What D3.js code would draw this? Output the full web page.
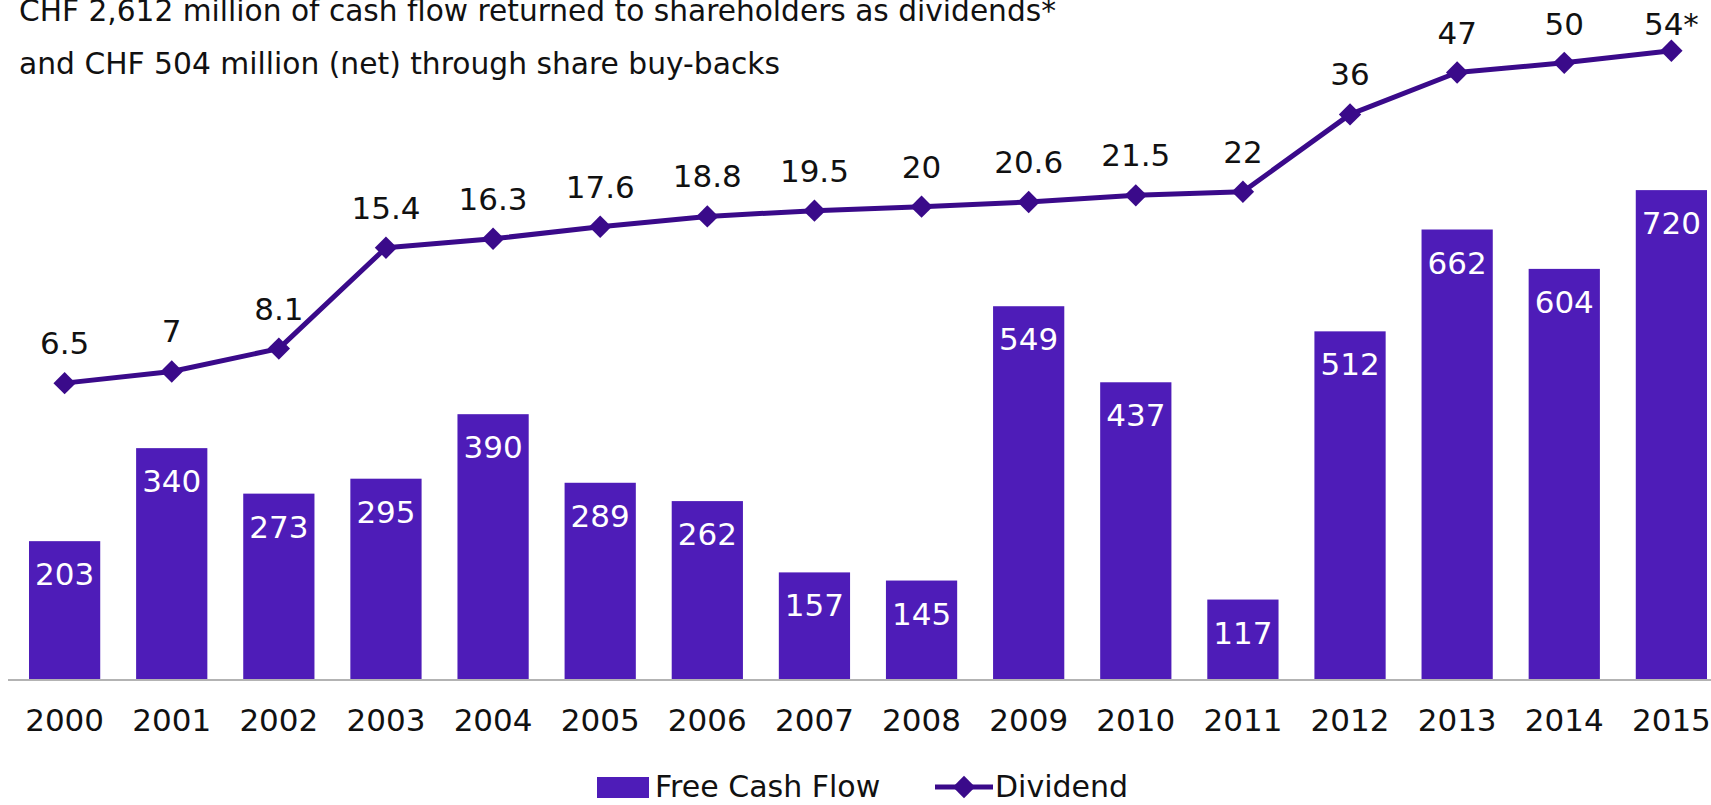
<!DOCTYPE html>
<html>
<head>
<meta charset="utf-8">
<script src="https://cdn.jsdelivr.net/npm/d3@7"></script>
<style>
  html, body { margin: 0; padding: 0; background: #fff; }
  svg { display: block; font-family: "DejaVu Sans", sans-serif; }
</style>
</head>
<body>
<svg id="chart" width="1711" height="805"></svg>
<script>
// Free cash flow (CHF million) and dividend per share (CHF), 2000–2015
const years = ["2000","2001","2002","2003","2004","2005","2006","2007","2008","2009","2010","2011","2012","2013","2014","2015"];
const freeCashFlow = [203, 340, 273, 295, 390, 289, 262, 157, 145, 549, 437, 117, 512, 662, 604, 720];
const dividend = [6.5, 7, 8.1, 15.4, 16.3, 17.6, 18.8, 19.5, 20, 20.6, 21.5, 22, 36, 47, 50, 54];
const dividendLabels = ["6.5","7","8.1","15.4","16.3","17.6","18.8","19.5","20","20.6","21.5","22","36","47","50","54*"];
const titleLines = [
  "CHF 2,612 million of cash flow returned to shareholders as dividends*",
  "and CHF 504 million (net) through share buy-backs"
];
const legendItems = ["Free Cash Flow", "Dividend"];

const barColor = "#4e1cb8";
const lineColor = "#3a0a8a";

const svg = d3.select("#chart");

const x = d3.scaleBand().domain(years).range([11, 1725]).paddingInner(0.335).paddingOuter(0.168);
const yBar = d3.scaleLinear().domain([0, 1000]).range([679, 0]);
const yDiv = d3.scaleLog().domain([1, 100]).range([677, -46]);

// Title
svg.append("g").selectAll("text").data(titleLines).join("text")
  .attr("x", 19)
  .attr("y", (d, i) => 21 + i * 53)
  .attr("font-size", 31)
  .attr("fill", "#111")
  .attr("textLength", (d, i) => i === 0 ? 1037 : 761)
  .attr("lengthAdjust", "spacingAndGlyphs")
  .text(d => d);

// Bars
svg.append("g").selectAll("rect").data(freeCashFlow).join("rect")
  .attr("x", (d, i) => x(years[i]))
  .attr("y", d => yBar(d))
  .attr("width", x.bandwidth())
  .attr("height", d => yBar(0) - yBar(d))
  .attr("fill", barColor);

// Bar value labels
svg.append("g").selectAll("text").data(freeCashFlow).join("text")
  .attr("x", (d, i) => x(years[i]) + x.bandwidth() / 2)
  .attr("y", d => yBar(d) + 44)
  .attr("text-anchor", "middle")
  .attr("font-size", 31)
  .attr("fill", "#fff")
  .text(d => d);

// X axis
const xAxis = svg.append("g")
  .attr("transform", `translate(0,${yBar(0) + 1})`)
  .call(d3.axisBottom(x).tickSize(0).tickPadding(29));
xAxis.select(".domain").attr("stroke", "#b3b3b3").attr("stroke-width", 2).attr("d", "M8,0H1711");
xAxis.selectAll("text").attr("font-size", 31).attr("fill", "#111")
  .attr("font-family", "DejaVu Sans, sans-serif");

// Dividend line
const cx = (i) => x(years[i]) + x.bandwidth() / 2;
const line = d3.line().x((d, i) => cx(i)).y(d => yDiv(d));
svg.append("path").datum(dividend)
  .attr("d", line)
  .attr("fill", "none")
  .attr("stroke", lineColor)
  .attr("stroke-width", 5)
  .attr("stroke-linejoin", "round");

const diamond = d3.symbol(d3.symbolSquare, 250);
svg.append("g").selectAll("path").data(dividend).join("path")
  .attr("d", diamond)
  .attr("transform", (d, i) => `translate(${cx(i)},${yDiv(d)}) rotate(45)`)
  .attr("fill", lineColor);

// Dividend labels (kept below the top edge)
svg.append("g").selectAll("text").data(dividend).join("text")
  .attr("x", (d, i) => cx(i))
  .attr("y", d => Math.max(yDiv(d) - 29, 35))
  .attr("text-anchor", "middle")
  .attr("font-size", 31)
  .attr("fill", "#111")
  .text((d, i) => dividendLabels[i]);

// Legend
const legend = svg.append("g");
legend.append("rect").attr("x", 597).attr("y", 777).attr("width", 52).attr("height", 21).attr("fill", barColor);
legend.append("text").attr("x", 655).attr("y", 797).attr("font-size", 30).attr("fill", "#111").text(legendItems[0]);
legend.append("line").attr("x1", 935).attr("x2", 993).attr("y1", 787).attr("y2", 787)
  .attr("stroke", lineColor).attr("stroke-width", 5);
legend.append("path").attr("d", diamond).attr("transform", "translate(964,787) rotate(45)").attr("fill", lineColor);
legend.append("text").attr("x", 995).attr("y", 797).attr("font-size", 30).attr("fill", "#111").text(legendItems[1]);
</script>
</body>
</html>
